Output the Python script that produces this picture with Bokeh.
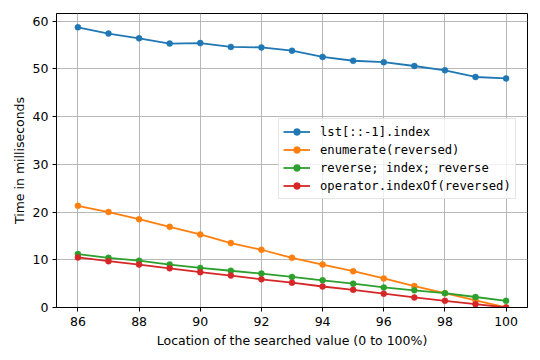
from bokeh.plotting import figure
from bokeh.models import Range1d, FixedTicker, Legend, LegendItem
from bokeh.embed import file_html
from bokeh.resources import INLINE

x = [86, 87, 88, 89, 90, 91, 92, 93, 94, 95, 96, 97, 98, 99, 100]
lst_index = [58.7, 57.4, 56.4, 55.3, 55.4, 54.6, 54.5, 53.8, 52.5, 51.7, 51.4, 50.6, 49.7, 48.3, 48.0]
enum_rev = [21.3, 20.0, 18.5, 16.9, 15.3, 13.5, 12.1, 10.4, 9.0, 7.6, 6.1, 4.5, 3.0, 1.5, 0.0]
rev_idx_rev = [11.2, 10.4, 9.8, 9.0, 8.3, 7.7, 7.1, 6.4, 5.7, 5.0, 4.2, 3.6, 3.0, 2.2, 1.4]
op_indexof = [10.5, 9.7, 9.0, 8.2, 7.4, 6.7, 5.9, 5.2, 4.4, 3.7, 2.9, 2.1, 1.4, 0.7, 0.0]

series = [
    ("lst[::-1].index", lst_index, "#1f77b4"),
    ("enumerate(reversed)", enum_rev, "#ff7f0e"),
    ("reverse; index; reverse", rev_idx_rev, "#2ca02c"),
    ("operator.indexOf(reversed)", op_indexof, "#d62728"),
]
x_ticks = [86, 88, 90, 92, 94, 96, 98, 100]
y_ticks = [0, 10, 20, 30, 40, 50, 60]

p = figure(width=535, height=352, output_backend="svg", toolbar_location=None,
           x_range=Range1d(85.3, 100.7), y_range=Range1d(0, 61.6),
           min_border_left=56, min_border_right=8, min_border_top=13, min_border_bottom=45)

p.background_fill_color = "white"
p.outline_line_color = "black"
p.outline_line_width = 1

for ax in (p.xaxis[0], p.yaxis[0]):
    ax.axis_line_color = "black"
    ax.major_tick_out = 4
    ax.major_tick_in = 0
    ax.minor_tick_line_color = None
    ax.major_label_text_font = "DejaVu Sans"
    ax.major_label_text_font_size = "12.5px"
    ax.major_label_text_color = "black"
    ax.axis_label_text_font = "DejaVu Sans"
    ax.axis_label_text_font_size = "12.5px"
    ax.axis_label_text_font_style = "normal"
    ax.axis_label_text_color = "black"

p.xaxis.ticker = FixedTicker(ticks=x_ticks)
p.yaxis.ticker = FixedTicker(ticks=y_ticks)
p.xaxis.axis_label = "Location of the searched value (0 to 100%)"
p.yaxis.axis_label = "Time in milliseconds"
p.xaxis.axis_label_standoff = 4
p.yaxis.axis_label_standoff = 3
p.xaxis.major_label_standoff = 5
p.yaxis.major_label_standoff = 4

p.xgrid.grid_line_color = "#b0b0b0"
p.ygrid.grid_line_color = "#b0b0b0"
p.xgrid.grid_line_width = 0.9
p.ygrid.grid_line_width = 0.9

items = []
for name, ys, color in series:
    l = p.line(x, ys, line_color=color, line_width=1.8)
    s = p.scatter(x, ys, size=6, fill_color=color, line_color=color, line_width=0.5)
    items.append(LegendItem(label=name, renderers=[l, s]))

legend = Legend(items=items, location=(222, 108))
legend.label_text_font = "DejaVu Sans Mono"
legend.label_text_font_size = "12.2px"
legend.label_text_color = "black"
legend.label_height = 17
legend.glyph_height = 17
legend.glyph_width = 27
legend.spacing = 1
legend.padding = 4
legend.margin = 0
legend.label_standoff = 10
legend.border_line_color = "#cccccc"
legend.border_line_width = 1
legend.background_fill_alpha = 0.8
p.add_layout(legend, "center")

open("out.html", "w").write(file_html(p, INLINE))
